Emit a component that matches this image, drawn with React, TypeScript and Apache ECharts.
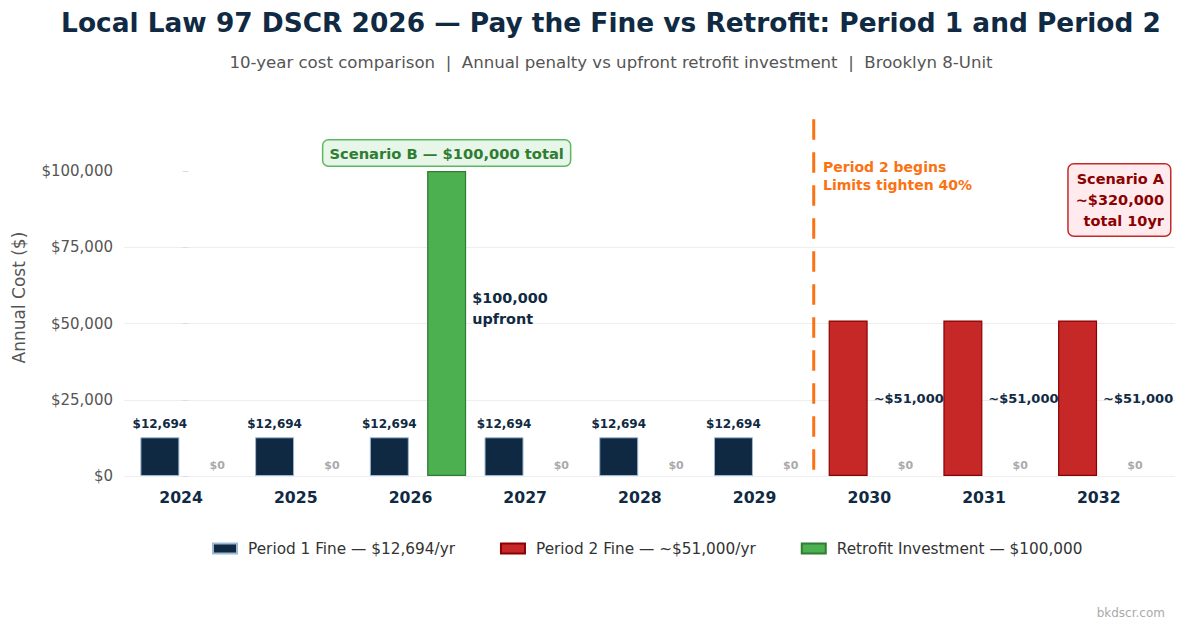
import React, { useEffect, useRef } from "react";
import * as echarts from "echarts";

// ---- data ----
const years = ["2024", "2025", "2026", "2027", "2028", "2029", "2030", "2031", "2032"];
const period1Fine: (number | null)[] = [12694, 12694, 12694, 12694, 12694, 12694, null, null, null];
const period2Fine: (number | null)[] = [null, null, null, null, null, null, 51000, 51000, 51000];
const retrofitInvestment = [0, 0, 100000, 0, 0, 0, 0, 0, 0];
const yTickValues = [0, 25000, 50000, 75000, 100000];
const yMax = 117000;
// Period 2 starts between the 2029 and 2030 groups (index units on the year scale)
const periodBoundary = 5.45;

const seriesNames = [
  "Period 1 Fine — $12,694/yr",
  "Period 2 Fine — ~$51,000/yr",
  "Retrofit Investment — $100,000",
];

const FONT = '"DejaVu Sans", sans-serif';
const NAVY = "#102a43";
const ORANGE = "#fa7212";

// ---- layout (px) ----
const W = 1185;
const H = 629;
const PLOT_LEFT = 124;
const PLOT_RIGHT = 1175;
const BAR_LEFT = 131.2;
const BAR_RIGHT = 1163.6;
const PLOT_TOP = 119.15;
const PLOT_BOTTOM = 476;

const money = (v: number) => "$" + Math.round(v).toLocaleString("en-US");

export default function App() {
  const ref = useRef<HTMLDivElement>(null);

  useEffect(() => {
    if (!ref.current) return;
    const chart = echarts.init(ref.current, undefined, { renderer: "svg" });

    const band = (BAR_RIGHT - BAR_LEFT) / years.length;
    const bgMin = -0.5 - (BAR_LEFT - PLOT_LEFT) / band;
    const bgMax = years.length - 0.5 + (PLOT_RIGHT - BAR_RIGHT) / band;

    const option: echarts.EChartsOption = {
      animation: false,
      backgroundColor: "#ffffff",
      textStyle: { fontFamily: FONT },
      grid: [
        {
          left: PLOT_LEFT,
          right: W - PLOT_RIGHT,
          top: PLOT_TOP,
          bottom: H - PLOT_BOTTOM,
        },
        {
          left: BAR_LEFT,
          right: W - BAR_RIGHT,
          top: PLOT_TOP,
          bottom: H - PLOT_BOTTOM,
        },
      ],
      xAxis: [
        {
          type: "value",
          gridIndex: 0,
          min: bgMin,
          max: bgMax,
          show: false,
        },
        {
          type: "category",
          gridIndex: 1,
          data: years,
          axisLine: { show: false },
          axisTick: { show: false },
          axisLabel: {
            color: NAVY,
            fontWeight: "bold",
            fontSize: 15.7,
            margin: 13,
            padding: [0, 15, 0, 0],
          },
        },
      ],
      yAxis: [
        {
          type: "value",
          gridIndex: 0,
          min: 0,
          max: yMax,
          interval: 25000,
          name: "Annual Cost ($)",
          nameLocation: "middle",
          nameGap: 97,
          nameTextStyle: { color: "#555555", fontSize: 17 },
          axisLine: { show: false },
          axisTick: {
            show: true,
            length: 6,
            lineStyle: { color: "#dddddd" },
            customValues: yTickValues,
          },
          axisLabel: {
            color: "#555555",
            fontSize: 15,
            margin: 11,
            customValues: yTickValues,
            formatter: (v: number) => money(v),
          },
          splitLine: {
            show: true,
            showMaxLine: false,
            lineStyle: { color: "#eeeeee", width: 1 },
          },
        },
        {
          type: "value",
          gridIndex: 1,
          min: 0,
          max: yMax,
          show: false,
          splitLine: { show: false },
        },
      ],
      legend: {
        data: seriesNames,
        left: 207,
        top: 536,
        icon: "rect",
        itemWidth: 24,
        itemHeight: 10,
        itemGap: 45,
        textStyle: { color: "#333333", fontSize: 15.3, padding: [0, 0, 0, 6] },
      },
      series: [
        {
          name: "boundary",
          type: "line",
          xAxisIndex: 0,
          yAxisIndex: 0,
          // drawn top-down so the dash pattern starts at the top edge
          data: [
            [periodBoundary, yMax],
            [periodBoundary, 0],
          ],
          symbol: "none",
          silent: true,
          lineStyle: { color: ORANGE, width: 3, type: [20.5, 12.5] },
          z: 1,
        },
        {
          name: seriesNames[0],
          type: "bar",
          xAxisIndex: 1,
          yAxisIndex: 1,
          stack: "fine",
          barWidth: 39,
          data: period1Fine.map((v) => (v == null ? "-" : v)),
          itemStyle: { color: "#0f2942", borderColor: "#9db9d4", borderWidth: 1 },
          label: {
            show: true,
            position: "top",
            distance: 7,
            color: NAVY,
            fontSize: 12,
            fontWeight: "bold",
            formatter: (p: any) => money(p.value),
          },
          z: 3,
        },
        {
          name: seriesNames[1],
          type: "bar",
          xAxisIndex: 1,
          yAxisIndex: 1,
          stack: "fine",
          barWidth: 39,
          data: period2Fine.map((v) => (v == null ? "-" : v)),
          itemStyle: { color: "#c62828", borderColor: "#8b0000", borderWidth: 1.2 },
          label: {
            show: true,
            position: "right",
            distance: 6,
            color: NAVY,
            fontSize: 13,
            fontWeight: "bold",
            formatter: (p: any) => "~" + money(p.value),
          },
          z: 3,
        },
        {
          name: seriesNames[2],
          type: "bar",
          xAxisIndex: 1,
          yAxisIndex: 1,
          barWidth: 39,
          barGap: "47%",
          itemStyle: { color: "#4caf50", borderColor: "#2e7d32", borderWidth: 1.2 },
          data: retrofitInvestment.map((v) =>
            v === 0
              ? {
                  value: v,
                  itemStyle: { borderWidth: 0 },
                  label: {
                    show: true,
                    position: "top",
                    distance: 5,
                    color: "#aaaaaa",
                    fontSize: 11,
                    fontWeight: "bold",
                    formatter: () => money(v),
                  },
                }
              : {
                  value: v,
                  label: {
                    show: true,
                    position: ["100%", "45%"],
                    offset: [6, 0],
                    align: "left",
                    verticalAlign: "middle",
                    color: NAVY,
                    fontSize: 14.4,
                    fontWeight: "bold",
                    lineHeight: 21,
                    formatter: () => money(v) + "\nupfront",
                  },
                }
          ),
          markPoint: {
            symbol: "circle",
            symbolSize: 1,
            itemStyle: { color: "rgba(0,0,0,0)" },
            silent: true,
            data: [
              {
                coord: [years[retrofitInvestment.indexOf(100000)], 100000],
                label: {
                  show: true,
                  position: "top",
                  distance: 5,
                  formatter: "Scenario B — $100,000 total",
                  color: "#2e7d32",
                  fontSize: 14.7,
                  fontWeight: "bold",
                  backgroundColor: "#e8f5e9",
                  borderColor: "#5cb860",
                  borderWidth: 1.5,
                  borderRadius: 5,
                  padding: [5, 6, 5, 6],
                },
              },
            ],
          },
          z: 3,
        },
      ],
      graphic: [
        {
          type: "text",
          x: 611,
          y: 22,
          style: {
            text: "Local Law 97 DSCR 2026 — Pay the Fine vs Retrofit: Period 1 and Period 2",
            align: "center",
            verticalAlign: "middle",
            font: `bold 26.4px ${FONT}`,
            fill: NAVY,
          },
        },
        {
          type: "text",
          x: 611,
          y: 62,
          style: {
            text: "10-year cost comparison  |  Annual penalty vs upfront retrofit investment  |  Brooklyn 8-Unit",
            align: "center",
            verticalAlign: "middle",
            font: `16.6px ${FONT}`,
            fill: "#555555",
          },
        },
        {
          type: "text",
          x: 823,
          y: 176,
          style: {
            text: "Period 2 begins\nLimits tighten 40%",
            align: "left",
            verticalAlign: "middle",
            font: `bold 14px ${FONT}`,
            lineHeight: 18,
            fill: ORANGE,
          },
        },
        {
          type: "text",
          x: 1170,
          y: 200,
          style: {
            text: "Scenario A\n~$320,000\ntotal 10yr",
            align: "right",
            verticalAlign: "middle",
            font: `bold 14.5px ${FONT}`,
            lineHeight: 21,
            fill: "#8b0000",
            backgroundColor: "#ffebee",
            borderColor: "#c62828",
            borderWidth: 1.5,
            borderRadius: 5,
            padding: [4, 6, 4, 7],
          },
        },
        {
          type: "text",
          x: 1165,
          y: 613,
          style: {
            text: "bkdscr.com",
            align: "right",
            verticalAlign: "middle",
            font: `12px ${FONT}`,
            fill: "#aaaaaa",
          },
        },
      ],
    };

    chart.setOption(option);
    return () => chart.dispose();
  }, []);

  return (
    <div
      ref={ref}
      style={{ position: "absolute", left: 0, top: 0, width: W, height: H }}
    />
  );
}
